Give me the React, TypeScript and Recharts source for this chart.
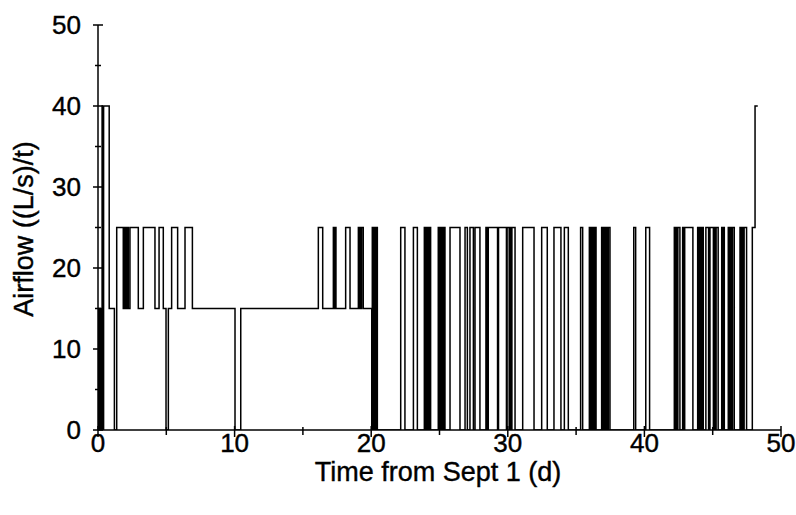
import { Line, LineChart, XAxis, YAxis } from "recharts";

// [day, airflow] change points
const stepsDays0to10: [number, number][] = [
  [0, 15], [0.03, 0], [0.06, 15], [0.09, 0], [0.12, 15], [0.15, 0], [0.18, 15],
  [0.21, 0], [0.24, 15], [0.27, 0], [0.3, 40], [0.38, 0], [0.41, 40], [0.82, 15],
  [1.2, 0], [1.37, 25], [1.85, 15], [1.93, 25], [1.98, 15], [2.02, 25], [2.06, 15],
  [2.1, 25], [2.14, 15], [2.18, 25], [2.22, 15], [2.34, 25], [2.95, 15], [3.32, 25],
  [4.17, 15], [4.47, 25], [4.78, 15], [4.98, 0], [5.15, 15], [5.39, 25], [5.83, 15],
  [6.37, 25], [6.91, 15],
];

const stepsDays10to21: [number, number][] = [
  [10.03, 0], [10.45, 15], [16.13, 25], [16.45, 15], [17.23, 25], [17.3, 15],
  [17.35, 25], [17.42, 15], [18.13, 25], [18.45, 15], [19.06, 25], [19.12, 15],
  [19.18, 25], [19.24, 15], [19.3, 25], [19.42, 15], [20.04, 0], [20.08, 25],
  [20.12, 0], [20.16, 25], [20.2, 0], [20.24, 25], [20.28, 0], [20.32, 25],
  [20.36, 0], [20.4, 25], [20.45, 0],
];

const stepsDays22to35: [number, number][] = [
  [22.16, 25], [22.47, 0], [23.09, 25], [23.38, 0], [23.89, 25], [23.98, 0],
  [24.03, 25], [24.1, 0], [24.15, 25], [24.22, 0], [24.27, 25], [24.35, 0],
  [24.91, 25], [25.0, 0], [25.05, 25], [25.12, 0], [25.18, 25], [25.28, 0],
  [25.32, 25], [25.4, 0], [25.77, 25], [26.5, 0], [26.87, 25], [27.04, 0],
  [27.23, 25], [27.48, 0], [27.6, 25], [27.96, 0], [28.4, 25], [28.5, 0],
  [28.57, 25], [29.25, 0], [29.32, 25], [29.9, 0], [29.95, 25], [30.1, 0],
  [30.16, 25], [30.25, 0], [30.3, 25], [30.53, 0], [31.09, 25], [31.92, 0],
  [32.48, 25], [32.89, 0], [33.38, 25], [33.89, 0], [34.14, 25], [34.43, 0],
];

const stepsDays35to49: [number, number][] = [
  [35.33, 25], [35.48, 0], [35.97, 25], [36.05, 0], [36.1, 25], [36.2, 0],
  [36.25, 25], [36.35, 0], [36.4, 25], [36.46, 0], [36.87, 25], [36.95, 0],
  [37.0, 25], [37.08, 0], [37.12, 25], [37.2, 0], [37.25, 25], [37.32, 0],
  [37.36, 25], [37.48, 0], [39.22, 25], [39.36, 0], [40.1, 25], [40.38, 0],
  [42.19, 25], [42.27, 0], [42.32, 25], [42.4, 0], [42.45, 25], [42.6, 0],
  [42.8, 25], [42.9, 0], [42.95, 25], [43.55, 0], [43.9, 25], [44.0, 0],
  [44.05, 25], [44.15, 0], [44.2, 25], [44.31, 0], [44.5, 25], [44.7, 0],
  [44.8, 25], [45.05, 0], [45.1, 25], [45.2, 0], [45.25, 25], [45.4, 0],
  [45.66, 25], [45.75, 0], [45.78, 25], [45.85, 0], [46.14, 25], [46.22, 0],
  [46.28, 25], [46.38, 0], [46.45, 25], [46.58, 0], [47.0, 25], [47.08, 0],
  [47.13, 25], [47.22, 0], [47.3, 25], [47.48, 0], [47.9, 25], [48.1, 40],
  [48.3, 40],
];

const xTicks = [0, 5, 10, 15, 20, 25, 30, 35, 40, 45, 50];
const yTicks = [0, 5, 10, 15, 20, 25, 30, 35, 40, 45, 50];

const data = [
  ...stepsDays0to10,
  ...stepsDays10to21,
  ...stepsDays22to35,
  ...stepsDays35to49,
].map(([t, v]) => ({ t, v }));

const font = "'Liberation Sans', Arial, sans-serif";
// slight outline makes the text look like the heavier scanned print
const textStyle = { stroke: "#000", strokeWidth: 0.4 };

function XTick({ x, y, payload }: any) {
  const major = payload.value % 10 === 0;
  return (
    <g>
      <line x1={x} x2={x} y1={y - (major ? 4 : 3)} y2={y + (major ? 7 : 5)} stroke="#000" strokeWidth={1.5} />
      {major && (
        <text x={x} y={y + 22} textAnchor="middle" fontSize={26} fontFamily={font} fill="#000" style={textStyle}>
          {payload.value}
        </text>
      )}
    </g>
  );
}

function YTick({ x, y, payload }: any) {
  const major = payload.value % 10 === 0;
  return (
    <g>
      <line x1={x - (major ? 5 : 3)} x2={x + (major ? 5 : 3)} y1={y} y2={y} stroke="#000" strokeWidth={1.5} />
      {major && (
        <text x={x - 17} y={y + 9} textAnchor="end" fontSize={26} fontFamily={font} fill="#000" style={textStyle}>
          {payload.value}
        </text>
      )}
    </g>
  );
}

function XTitle() {
  return (
    <text x={438} y={481} textAnchor="middle" fontSize={27} fontFamily={font} fill="#000" style={textStyle}>
      Time from Sept 1 (d)
    </text>
  );
}

function YTitle() {
  return (
    <text
      x={24}
      y={229}
      transform="rotate(-90 24 229)"
      textAnchor="middle"
      dominantBaseline="central"
      fontSize={27}
      fontFamily={font}
      fill="#000"
      style={textStyle}
    >
      Airflow ((L/s)/t)
    </text>
  );
}

export default function App() {
  return (
    <div style={{ position: "absolute", left: 0, top: 0, background: "#fff" }}>
      <LineChart width={796} height={515} data={data} margin={{ top: 25, right: 15, left: 0, bottom: 0 }}>
        <XAxis
          dataKey="t"
          type="number"
          domain={[0, 50]}
          ticks={xTicks}
          interval={0}
          tickSize={0}
          tickMargin={0}
          tickLine={false}
          tick={<XTick />}
          axisLine={{ stroke: "#000", strokeWidth: 1.5 }}
          height={85}
          allowDataOverflow
          label={<XTitle />}
        />
        <YAxis
          type="number"
          domain={[0, 50]}
          ticks={yTicks}
          interval={0}
          tickSize={0}
          tickMargin={0}
          tickLine={false}
          tick={<YTick />}
          axisLine={{ stroke: "#000", strokeWidth: 1.5 }}
          width={98}
          allowDataOverflow
          label={<YTitle />}
        />
        <Line
          type="stepAfter"
          dataKey="v"
          stroke="#000"
          strokeWidth={1.5}
          dot={false}
          isAnimationActive={false}
        />
      </LineChart>
    </div>
  );
}
